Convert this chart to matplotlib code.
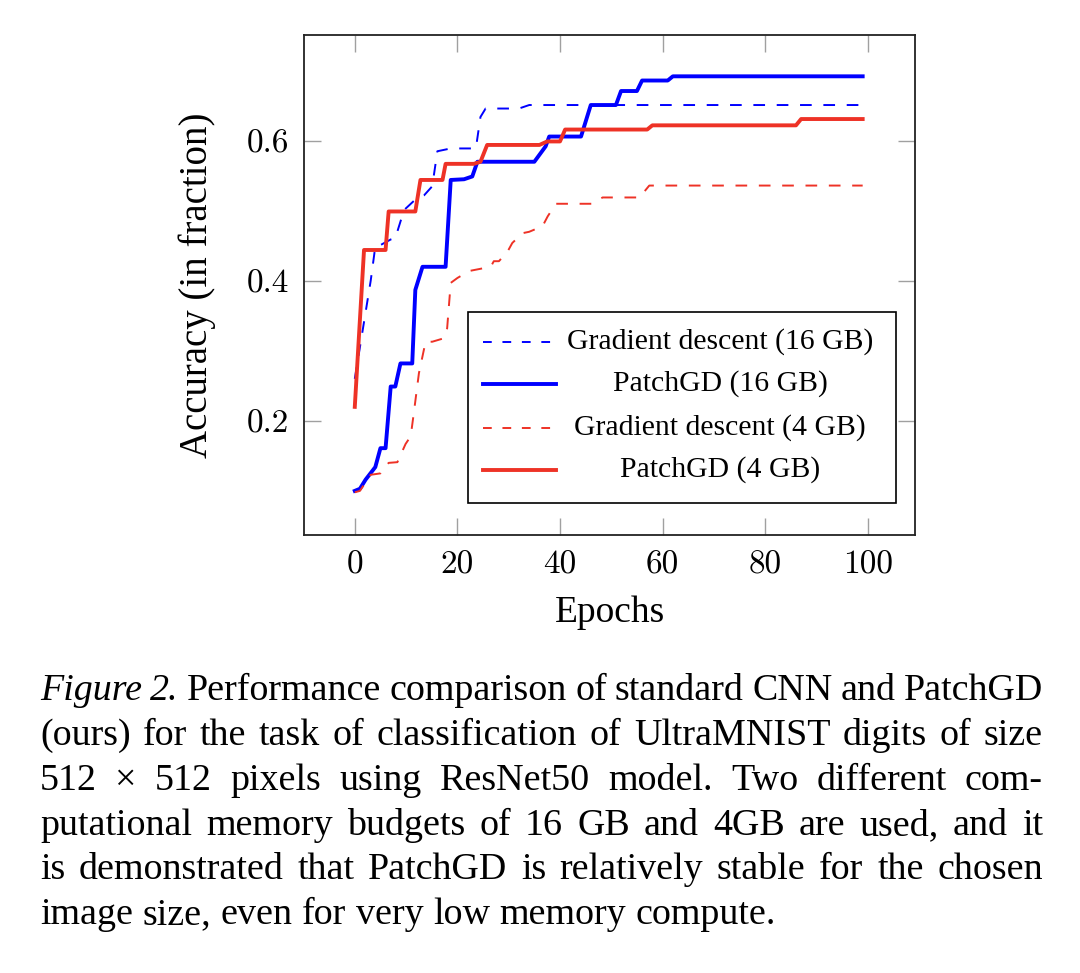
import matplotlib
matplotlib.use('Agg')
import matplotlib.pyplot as plt
from matplotlib.patches import Rectangle

# data (epoch, accuracy) vertices of each curve
gd16_x = [0, 3.1, 4.0, 5.0, 7.0, 7.9, 9.6, 11.8, 13.5, 15.1, 16.1, 18.7, 23.6, 24.5, 25.5, 32, 34, 99]
gd16_y = [0.26, 0.40, 0.449, 0.451, 0.459, 0.461, 0.501, 0.516, 0.522, 0.535, 0.585, 0.589, 0.589, 0.634, 0.646, 0.646, 0.651, 0.651]

pgd16_x = [0, 1.0, 2.1, 4.0, 5.0, 6.0, 7.0, 7.9, 8.9, 11.2, 11.8, 13.2, 17.7, 18.7, 21.3, 22.9, 23.9,
           35, 37.2, 37.9, 44.1, 46.0, 50.9, 51.9, 55, 56, 61, 62, 99]
pgd16_y = [0.100, 0.103, 0.116, 0.134, 0.161, 0.161, 0.249, 0.249, 0.282, 0.282, 0.387, 0.420, 0.420, 0.544,
           0.545, 0.549, 0.570, 0.570, 0.592, 0.606, 0.606, 0.651, 0.651, 0.671, 0.671, 0.686, 0.686, 0.692, 0.692]

gd4_x = [0, 1.0, 3.1, 5.0, 6.6, 8.3, 9.9, 10.9, 11.5, 12.5, 13.8, 15.1, 17.4, 18.0, 18.7, 20, 22.3, 26.5,
         27.1, 28.1, 29.8, 30.7, 32.7, 34, 36.6, 37.6, 39.2, 46.3, 48.3, 55.5, 57.4, 99]
gd4_y = [0.098, 0.100, 0.123, 0.125, 0.140, 0.141, 0.167, 0.178, 0.211, 0.268, 0.313, 0.313, 0.318, 0.332,
         0.397, 0.404, 0.414, 0.420, 0.428, 0.428, 0.442, 0.454, 0.468, 0.470, 0.478, 0.492, 0.510, 0.510,
         0.519, 0.519, 0.536, 0.536]

pgd4_x = [0, 1.8, 6.0, 6.6, 11.8, 12.8, 17.1, 17.7, 23.2, 24.5, 25.8, 36, 37.5, 40, 41, 57, 58, 86, 87, 99]
pgd4_y = [0.220, 0.444, 0.444, 0.499, 0.499, 0.544, 0.544, 0.567, 0.567, 0.570, 0.594, 0.594, 0.599, 0.599,
          0.616, 0.616, 0.622, 0.622, 0.631, 0.631]

labels = ['Gradient descent (16 GB)', 'PatchGD (16 GB)', 'Gradient descent (4 GB)', 'PatchGD (4 GB)']
x_ticks = [0, 20, 40, 60, 80, 100]
y_ticks = [0.2, 0.4, 0.6]

caption_lines = [
    [('Figure', 'italic'), ('2.', 'italic'), 'Performance', 'comparison', 'of', 'standard', 'CNN', 'and', 'PatchGD'],
    ['(ours)', 'for', 'the', 'task', 'of', 'classification', 'of', 'UltraMNIST', 'digits', 'of', 'size'],
    ['512', '\u00d7', '512', 'pixels', 'using', 'ResNet50', 'model.', 'Two', 'different', 'com-'],
    ['putational', 'memory', 'budgets', 'of', '16', 'GB', 'and', '4GB', 'are', 'used,', 'and', 'it'],
    ['is', 'demonstrated', 'that', 'PatchGD', 'is', 'relatively', 'stable', 'for', 'the', 'chosen'],
    ['image', 'size,', 'even', 'for', 'very', 'low', 'memory', 'compute.'],
]

BLUE = '#0000ff'
RED = '#ee3226'
SERIF = 'Liberation Serif'
W, H = 1080, 973

fig = plt.figure(figsize=(W / 100, H / 100), dpi=100)
ax = fig.add_axes([304 / W, 1 - 535 / H, 611 / W, 500 / H])

ax.plot(gd16_x, gd16_y, color=BLUE, lw=1.4, dashes=(6, 6))
ax.plot(pgd16_x, pgd16_y, color=BLUE, lw=2.8)
ax.plot(gd4_x, gd4_y, color=RED, lw=1.4, dashes=(6, 6))
ax.plot(pgd4_x, pgd4_y, color=RED, lw=2.8)

ax.set_xlim(-9.9, 109.2)
ax.set_ylim(0.037, 0.751)
ax.set_xticks(x_ticks)
ax.set_yticks(y_ticks)
ax.set_xticklabels([str(v) for v in x_ticks])
ax.set_yticklabels(['%.1f' % v for v in y_ticks])
ax.tick_params(direction='in', top=True, right=True, length=12, width=1, color='#a0a0a0')
ax.tick_params(axis='x', pad=11)
ax.tick_params(axis='y', pad=11)
for lab in ax.get_xticklabels() + ax.get_yticklabels():
    lab.set_fontfamily('cmr10')
    lab.set_fontsize(24)
for s in ax.spines.values():
    s.set_linewidth(1.3)
    s.set_color('#222222')

ax.set_xlabel('Epochs', fontsize=27, family=SERIF)
ax.set_ylabel('Accuracy (in fraction)', fontsize=28, family=SERIF)
ax.xaxis.set_label_coords(0.5, -0.122)
ax.yaxis.set_label_coords(-0.144, 0.5)

# legend box drawn by hand so the labels can be centred like pgfplots
ax.add_patch(Rectangle((0.268, 0.064), 0.701, 0.382, transform=ax.transAxes,
                       fill=True, facecolor='white', edgecolor='black', lw=1.2, zorder=5))
styles = [(BLUE, 1.4, (6, 6)), (BLUE, 2.8, None), (RED, 1.4, (6, 6)), (RED, 2.8, None)]
rows = [0.386, 0.302, 0.214, 0.130]
for (c, lw, d), yy, lab in zip(styles, rows, labels):
    ln, = ax.plot([0.293, 0.412], [yy, yy], color=c, lw=lw, transform=ax.transAxes, zorder=6)
    if d:
        ln.set_dashes((4.5, 5.5))
    ax.text(0.681, yy, lab, transform=ax.transAxes, ha='center', va='center',
            fontsize=21.4, family=SERIF, zorder=6)

# justified caption
renderer = fig.canvas.get_renderer()
left, right = 40, 1043
baselines = [700, 745, 790, 835, 879, 924]
for i, (words, yb) in enumerate(zip(caption_lines, baselines)):
    texts = []
    for w in words:
        style = 'normal'
        if isinstance(w, tuple):
            w, style = w
        t = fig.text(0, 1 - yb / H, w, fontsize=27.4, family=SERIF, style=style, va='baseline')
        texts.append(t)
    widths = [t.get_window_extent(renderer).width for t in texts]
    if i < len(caption_lines) - 1:
        gap = (right - left - sum(widths)) / (len(words) - 1)
    else:
        gap = 27.4 * 1.389 * 0.25
    x = left
    for t, w in zip(texts, widths):
        t.set_x(x / W)
        x += w + gap

fig.savefig('out.png', dpi=100)
